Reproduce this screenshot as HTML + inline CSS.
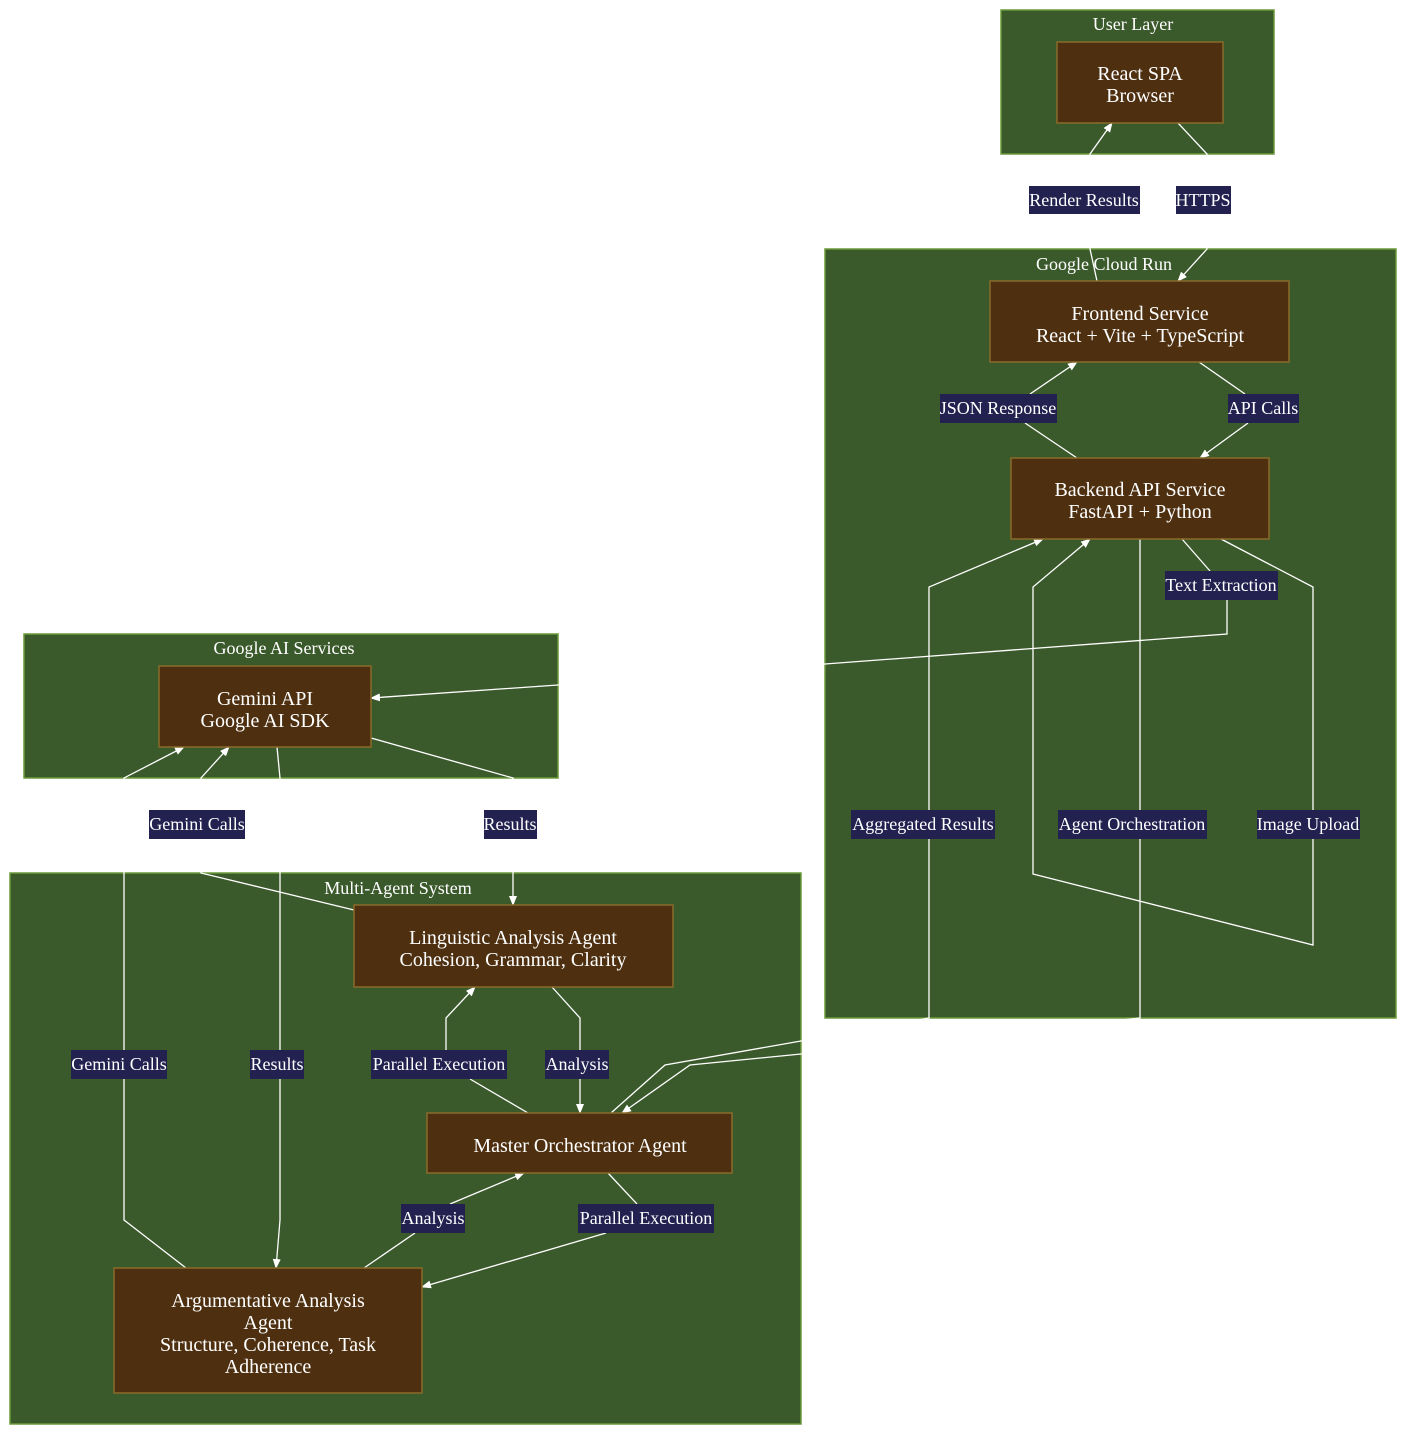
<!DOCTYPE html>
<html><head><meta charset="utf-8"><style>html,body{margin:0;padding:0;background:#fff}svg{display:block}</style></head>
<body>
<svg width="1406" height="1436" viewBox="0 0 1406 1436" xmlns="http://www.w3.org/2000/svg" font-family="'Liberation Serif', serif">
<defs><marker id="a" markerWidth="10" markerHeight="10" refX="9" refY="5" orient="auto" markerUnits="userSpaceOnUse"><path d="M0,1 L10,5 L0,9 z" fill="#fff"/></marker></defs>
<g fill="#3b5a2c" stroke="#6a9a3a" stroke-width="1.5">
<rect x="1001" y="10" width="273" height="144"/>
<rect x="825" y="249" width="571" height="769"/>
<rect x="24" y="634" width="534" height="144"/>
<rect x="10" y="873" width="791" height="551"/>
</g>
<g fill="#fff" font-size="18" text-anchor="middle">
<text x="1133" y="30">User Layer</text>
<text x="1104" y="270">Google Cloud Run</text>
<text x="284" y="654">Google AI Services</text>
<text x="398" y="894">Multi-Agent System</text>
</g>
<g fill="none" stroke="#fff" stroke-width="1.3">
<polyline points="1178,123 1207,154 1207,186"/><polyline points="1207,214 1207,249 1178,281" marker-end="url(#a)"/>
<polyline points="1097,281 1090,249 1090,214"/><polyline points="1090,186 1090,154 1112,123" marker-end="url(#a)"/>
<polyline points="1199,362 1245,394"/><polyline points="1248,423 1200,458" marker-end="url(#a)"/>
<polyline points="1077,458 1025,423"/><polyline points="1030,394 1077,362" marker-end="url(#a)"/>
<polyline points="1182,539 1210,571"/><polyline points="1227,600 1227,634 825,664 558,685 371,698" marker-end="url(#a)"/>
<polyline points="1221,539 1313,587 1313,810"/><polyline points="1313,839 1313,945 1033,874 1033,587 1090,539" marker-end="url(#a)"/>
<polyline points="1140,539 1140,810"/><polyline points="1140,839 1140,1018 801,1054 690,1065 622,1113" marker-end="url(#a)"/>
<polyline points="611,1113 665,1065 801,1041 929,1018 929,839"/><polyline points="929,810 929,587 1043,539" marker-end="url(#a)"/>
<polyline points="371,738 513,778 513,810"/><polyline points="513,839 513,873 513,905" marker-end="url(#a)"/>
<polyline points="354,910 201,873 201,839"/><polyline points="201,810 201,778 229,747" marker-end="url(#a)"/>
<polyline points="186,1268 124,1220 124,1079"/><polyline points="124,1050 124,873 124,839"/><polyline points="124,810 124,778 184,747" marker-end="url(#a)"/>
<polyline points="277,747 280,778 280,810"/><polyline points="280,839 280,1050"/><polyline points="280,1079 280,1220 276,1268" marker-end="url(#a)"/>
<polyline points="528,1113 470,1079"/><polyline points="446,1050 446,1018 475,987" marker-end="url(#a)"/>
<polyline points="552,987 580,1018 580,1050"/><polyline points="580,1079 580,1113" marker-end="url(#a)"/>
<polyline points="364,1268 415,1233"/><polyline points="450,1204 524,1173" marker-end="url(#a)"/>
<polyline points="608,1173 637,1204"/><polyline points="606,1233 422,1287" marker-end="url(#a)"/>
</g>
<g fill="#4e3011" stroke="#8a6a2a" stroke-width="1.5">
<rect x="1057" y="42" width="166" height="81"/>
<rect x="990" y="281" width="299" height="81"/>
<rect x="1011" y="458" width="258" height="81"/>
<rect x="159" y="666" width="212" height="81"/>
<rect x="354" y="905" width="319" height="82"/>
<rect x="427" y="1113" width="305" height="60"/>
<rect x="114" y="1268" width="308" height="125"/>
</g>
<g fill="#fff" font-size="20" text-anchor="middle">
<text x="1140" y="80">React SPA</text><text x="1140" y="102">Browser</text>
<text x="1140" y="320">Frontend Service</text><text x="1140" y="342">React + Vite + TypeScript</text>
<text x="1140" y="496">Backend API Service</text><text x="1140" y="518">FastAPI + Python</text>
<text x="265" y="705">Gemini API</text><text x="265" y="727">Google AI SDK</text>
<text x="513" y="944">Linguistic Analysis Agent</text><text x="513" y="966">Cohesion, Grammar, Clarity</text>
<text x="580" y="1152">Master Orchestrator Agent</text>
<text x="268" y="1307">Argumentative Analysis</text><text x="268" y="1329">Agent</text><text x="268" y="1351">Structure, Coherence, Task</text><text x="268" y="1373">Adherence</text>
</g>
<g fill="#23214f">
<rect x="1029" y="186" width="111" height="28"/><rect x="1176" y="186" width="55" height="28"/>
<rect x="940" y="394" width="117" height="29"/><rect x="1228" y="394" width="71" height="29"/>
<rect x="1165" y="571" width="113" height="29"/>
<rect x="851" y="810" width="144" height="29"/><rect x="1058" y="810" width="149" height="29"/><rect x="1257" y="810" width="103" height="29"/>
<rect x="149" y="810" width="96" height="29"/><rect x="484" y="810" width="53" height="29"/>
<rect x="71" y="1050" width="96" height="29"/><rect x="250" y="1050" width="54" height="29"/><rect x="371" y="1050" width="136" height="29"/><rect x="545" y="1050" width="64" height="29"/>
<rect x="401" y="1204" width="64" height="29"/><rect x="578" y="1204" width="136" height="29"/>
</g>
<g fill="#fff" font-size="18" text-anchor="middle">
<text x="1084" y="206">Render Results</text><text x="1203" y="206">HTTPS</text>
<text x="998" y="414">JSON Response</text><text x="1263" y="414">API Calls</text>
<text x="1221" y="591">Text Extraction</text>
<text x="923" y="830">Aggregated Results</text><text x="1132" y="830">Agent Orchestration</text><text x="1308" y="830">Image Upload</text>
<text x="197" y="830">Gemini Calls</text><text x="510" y="830">Results</text>
<text x="119" y="1070">Gemini Calls</text><text x="277" y="1070">Results</text><text x="439" y="1070">Parallel Execution</text><text x="577" y="1070">Analysis</text>
<text x="433" y="1224">Analysis</text><text x="646" y="1224">Parallel Execution</text>
</g>
</svg>
</body></html>
